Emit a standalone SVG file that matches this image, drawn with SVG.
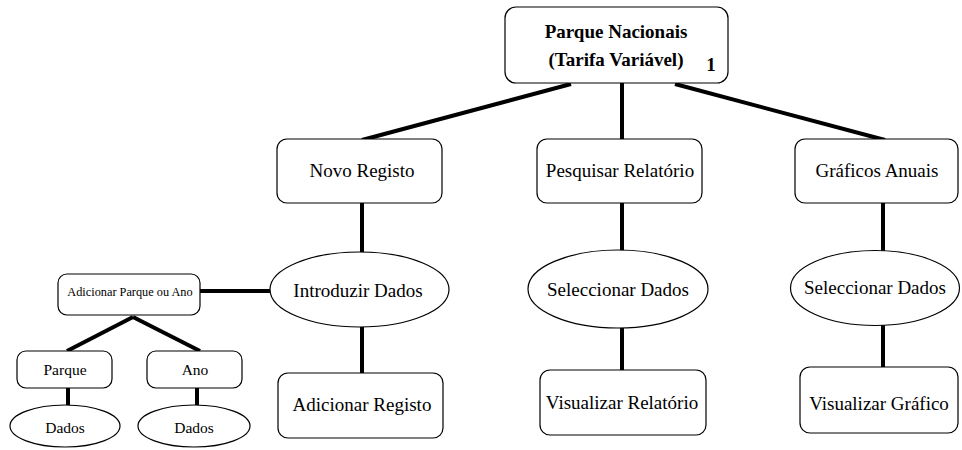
<svg xmlns="http://www.w3.org/2000/svg" width="962" height="450" viewBox="0 0 962 450">
<style>
.box{fill:#fff;stroke:#000;stroke-width:1.2}
.ell{fill:#fff;stroke:#000;stroke-width:1.2}
text{font-family:'Liberation Serif','DejaVu Serif','Times New Roman',serif;font-size:19px;fill:#000;text-anchor:middle}
.b{font-weight:bold}
.s{font-size:15.5px}
.xs{font-size:12.3px}
.c line{stroke:#000;stroke-width:4;stroke-linecap:butt}
</style>
<rect width="962" height="450" fill="#fff"/>
<g class="c" id="connectors">
<line x1="571" y1="84" x2="362" y2="140"/>
<line x1="622" y1="83" x2="622" y2="140"/>
<line x1="675" y1="84" x2="885" y2="140"/>
<line x1="362" y1="203" x2="362" y2="253"/>
<line x1="622" y1="203" x2="622" y2="251"/>
<line x1="883" y1="203" x2="883" y2="251"/>
<line x1="362" y1="327" x2="362" y2="374"/>
<line x1="622" y1="328" x2="622" y2="371"/>
<line x1="883" y1="325" x2="883" y2="368"/>
<line x1="200" y1="291" x2="271" y2="291"/>
<line x1="133" y1="317" x2="67" y2="351"/>
<line x1="133" y1="317" x2="200" y2="351"/>
<line x1="68" y1="388" x2="68" y2="405"/>
<line x1="197" y1="388" x2="197" y2="405"/>
</g>
<g id="parque-nacionais" font-family="Liberation Serif, serif">
<rect class="box" x="505" y="7" width="223" height="76" rx="11"/>
<text class="b" x="616" y="38">Parque Nacionais</text>
<text class="b" x="616" y="66">(Tarifa Variável)</text>
<text class="b" x="711" y="71">1</text>
</g>
<g id="novo-registo">
<rect class="box" x="277" y="139" width="165" height="64" rx="10"/>
<text x="362" y="177">Novo Registo</text>
</g>
<g id="pesquisar-relatorio">
<rect class="box" x="537" y="139" width="165" height="64" rx="10"/>
<text x="620" y="177">Pesquisar Relatório</text>
</g>
<g id="graficos-anuais">
<rect class="box" x="795" y="139" width="163" height="64" rx="10"/>
<text x="877" y="177">Gráficos Anuais</text>
</g>
<g id="introduzir-dados">
<ellipse class="ell" cx="359.5" cy="289.5" rx="89.5" ry="37.5"/>
<text x="358" y="297">Introduzir Dados</text>
</g>
<g id="seleccionar-dados-1">
<ellipse class="ell" cx="618" cy="289" rx="90" ry="39"/>
<text x="618" y="296">Seleccionar Dados</text>
</g>
<g id="seleccionar-dados-2">
<ellipse class="ell" cx="875" cy="288" rx="84.5" ry="37.5"/>
<text x="875" y="294">Seleccionar Dados</text>
</g>
<g id="adicionar-registo">
<rect class="box" x="278" y="373" width="165" height="65" rx="10"/>
<text x="362" y="411">Adicionar Registo</text>
</g>
<g id="visualizar-relatorio">
<rect class="box" x="540" y="370" width="166" height="65" rx="10"/>
<text x="622" y="409">Visualizar Relatório</text>
</g>
<g id="visualizar-grafico">
<rect class="box" x="800" y="367" width="158" height="66" rx="10"/>
<text x="879" y="410">Visualizar Gráfico</text>
</g>
<g id="adicionar-parque-ou-ano">
<rect class="box" x="58" y="274" width="142" height="41" rx="9"/>
<text class="xs" x="130" y="296">Adicionar Parque ou Ano</text>
</g>
<g id="parque">
<rect class="box" x="17" y="351" width="95" height="37" rx="9"/>
<text class="s" x="65" y="375">Parque</text>
</g>
<g id="ano">
<rect class="box" x="147" y="351" width="95" height="37" rx="9"/>
<text class="s" x="195" y="375">Ano</text>
</g>
<g id="dados-1">
<ellipse class="ell" cx="65" cy="426" rx="55" ry="21"/>
<text class="s" x="65" y="433">Dados</text>
</g>
<g id="dados-2">
<ellipse class="ell" cx="194" cy="426" rx="56" ry="21"/>
<text class="s" x="194" y="433">Dados</text>
</g>
</svg>
